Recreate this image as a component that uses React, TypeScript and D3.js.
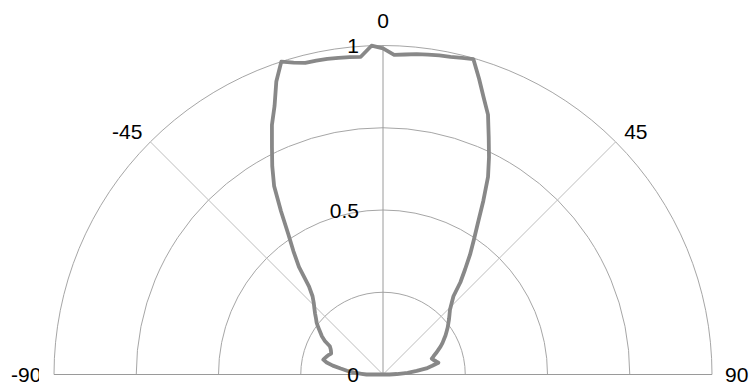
import React from 'react';
import * as d3 from 'd3';

// angle categories in degrees (0 = straight up)
const angles = [
  -90, -88, -86, -84, -82, -80, -78, -76, -74, -72, -70, -68, -66, -64, -62, -60,
  -58, -56, -54, -52, -50, -48, -46, -44, -42, -40, -38, -36, -34, -32, -30, -28,
  -26, -24, -22, -20, -18, -16, -14, -12, -10, -8, -6, -4, -2, 0, 2, 4, 6, 8, 10,
  12, 14, 16, 18, 20, 22, 24, 26, 28, 30, 32, 34, 36, 38, 40, 42, 44, 46, 48, 50,
  52, 54, 56, 58, 60, 62, 64, 66, 68, 70, 72, 74, 76, 78, 80, 82, 84, 86, 88, 90,
];

// normalised intensity per angle
const values = [
  0.05, 0.065, 0.09, 0.11, 0.13, 0.155, 0.175, 0.187, 0.183, 0.179, 0.175, 0.17,
  0.173, 0.177, 0.183, 0.204, 0.219, 0.23, 0.243, 0.256, 0.266, 0.278, 0.29, 0.303,
  0.32, 0.35, 0.415, 0.463, 0.515, 0.585, 0.662, 0.717, 0.77, 0.83, 0.88, 0.948,
  1.0, 0.986, 0.976, 0.975, 0.974, 0.972, 0.97, 0.968, 1.0, 0.991, 0.972, 0.975,
  0.979, 0.982, 0.985, 0.987, 0.992, 0.997, 0.945, 0.895, 0.852, 0.79, 0.735, 0.68,
  0.61, 0.545, 0.494, 0.45, 0.405, 0.366, 0.32, 0.3, 0.283, 0.272, 0.262, 0.252,
  0.243, 0.233, 0.224, 0.214, 0.205, 0.195, 0.184, 0.174, 0.164, 0.156, 0.16, 0.166,
  0.172, 0.152, 0.133, 0.103, 0.075, 0.042, 0.02,
];

const ringValues = [0.25, 0.5, 0.75, 1];
const radialLabels = [0, 0.5, 1];
const spokeAngles = [-90, -45, 0, 45, 90];

const width = 750;
const height = 386;
const cx = 383;
const cy = 374.5;
const R = 329;
const font = '"Liberation Sans", Arial, sans-serif';

export default function App() {
  const r = d3.scaleLinear().domain([0, 1]).range([0, R]);
  const rad = (deg: number) => (deg * Math.PI) / 180;

  const line = d3
    .lineRadial<number>()
    .angle((_, i) => rad(angles[i]))
    .radius((d) => r(d))
    .curve(d3.curveLinearClosed);

  const ring = (v: number) => {
    const p = d3.path();
    p.moveTo(-r(v), 0);
    p.arc(0, 0, r(v), Math.PI, 2 * Math.PI);
    return p.toString();
  };

  const pt = (deg: number, v: number) => [
    r(v) * Math.sin(rad(deg)),
    -r(v) * Math.cos(rad(deg)),
  ];

  return (
    <svg
      width={width}
      height={height}
      style={{ position: 'absolute', left: 0, top: 0, background: '#fff' }}
    >
      <defs>
        <clipPath id="leftClip">
          <rect x={0} y={0} width={39} height={height} />
        </clipPath>
      </defs>
      <g transform={`translate(${cx},${cy})`}>
        {ringValues.map((v) => (
          <path key={v} d={ring(v)} fill="none" stroke="#a6a6a6" strokeWidth={1} />
        ))}
        {spokeAngles.map((a) => {
          const [x, y] = pt(a, 1);
          const main = a === 0 || Math.abs(a) === 90;
          return (
            <line
              key={a}
              x1={0}
              y1={0}
              x2={x}
              y2={y}
              stroke={main ? '#9a9a9a' : '#bdbdbd'}
              strokeWidth={1}
            />
          );
        })}
        <path
          d={line(values) || ''}
          fill="none"
          stroke="#888888"
          strokeWidth={3.8}
          strokeLinejoin="round"
        />
        {radialLabels.map((v) => (
          <text
            key={v}
            x={-24}
            y={-r(v) + 7.5}
            textAnchor="end"
            fontFamily={font}
            fontSize={21}
            fill="#000"
          >
            {v}
          </text>
        ))}
      </g>
      {/* angle labels */}
      <text x={cx} y={cy - R - 18} textAnchor="middle" fontFamily={font} fontSize={21}>
        0
      </text>
      <text
        x={cx + pt(-45, 1)[0] - 8}
        y={cy + pt(-45, 1)[1] - 2.5}
        textAnchor="end"
        fontFamily={font}
        fontSize={21}
      >
        -45
      </text>
      <text
        x={cx + pt(45, 1)[0] + 8.5}
        y={cy + pt(45, 1)[1] - 2.5}
        textAnchor="start"
        fontFamily={font}
        fontSize={21}
      >
        45
      </text>
      <text
        x={11}
        y={cy + 7.5}
        textAnchor="start"
        fontFamily={font}
        fontSize={21}
        clipPath="url(#leftClip)"
      >
        -90
      </text>
      <text x={725} y={cy + 7.5} textAnchor="start" fontFamily={font} fontSize={21}>
        90
      </text>
    </svg>
  );
}
